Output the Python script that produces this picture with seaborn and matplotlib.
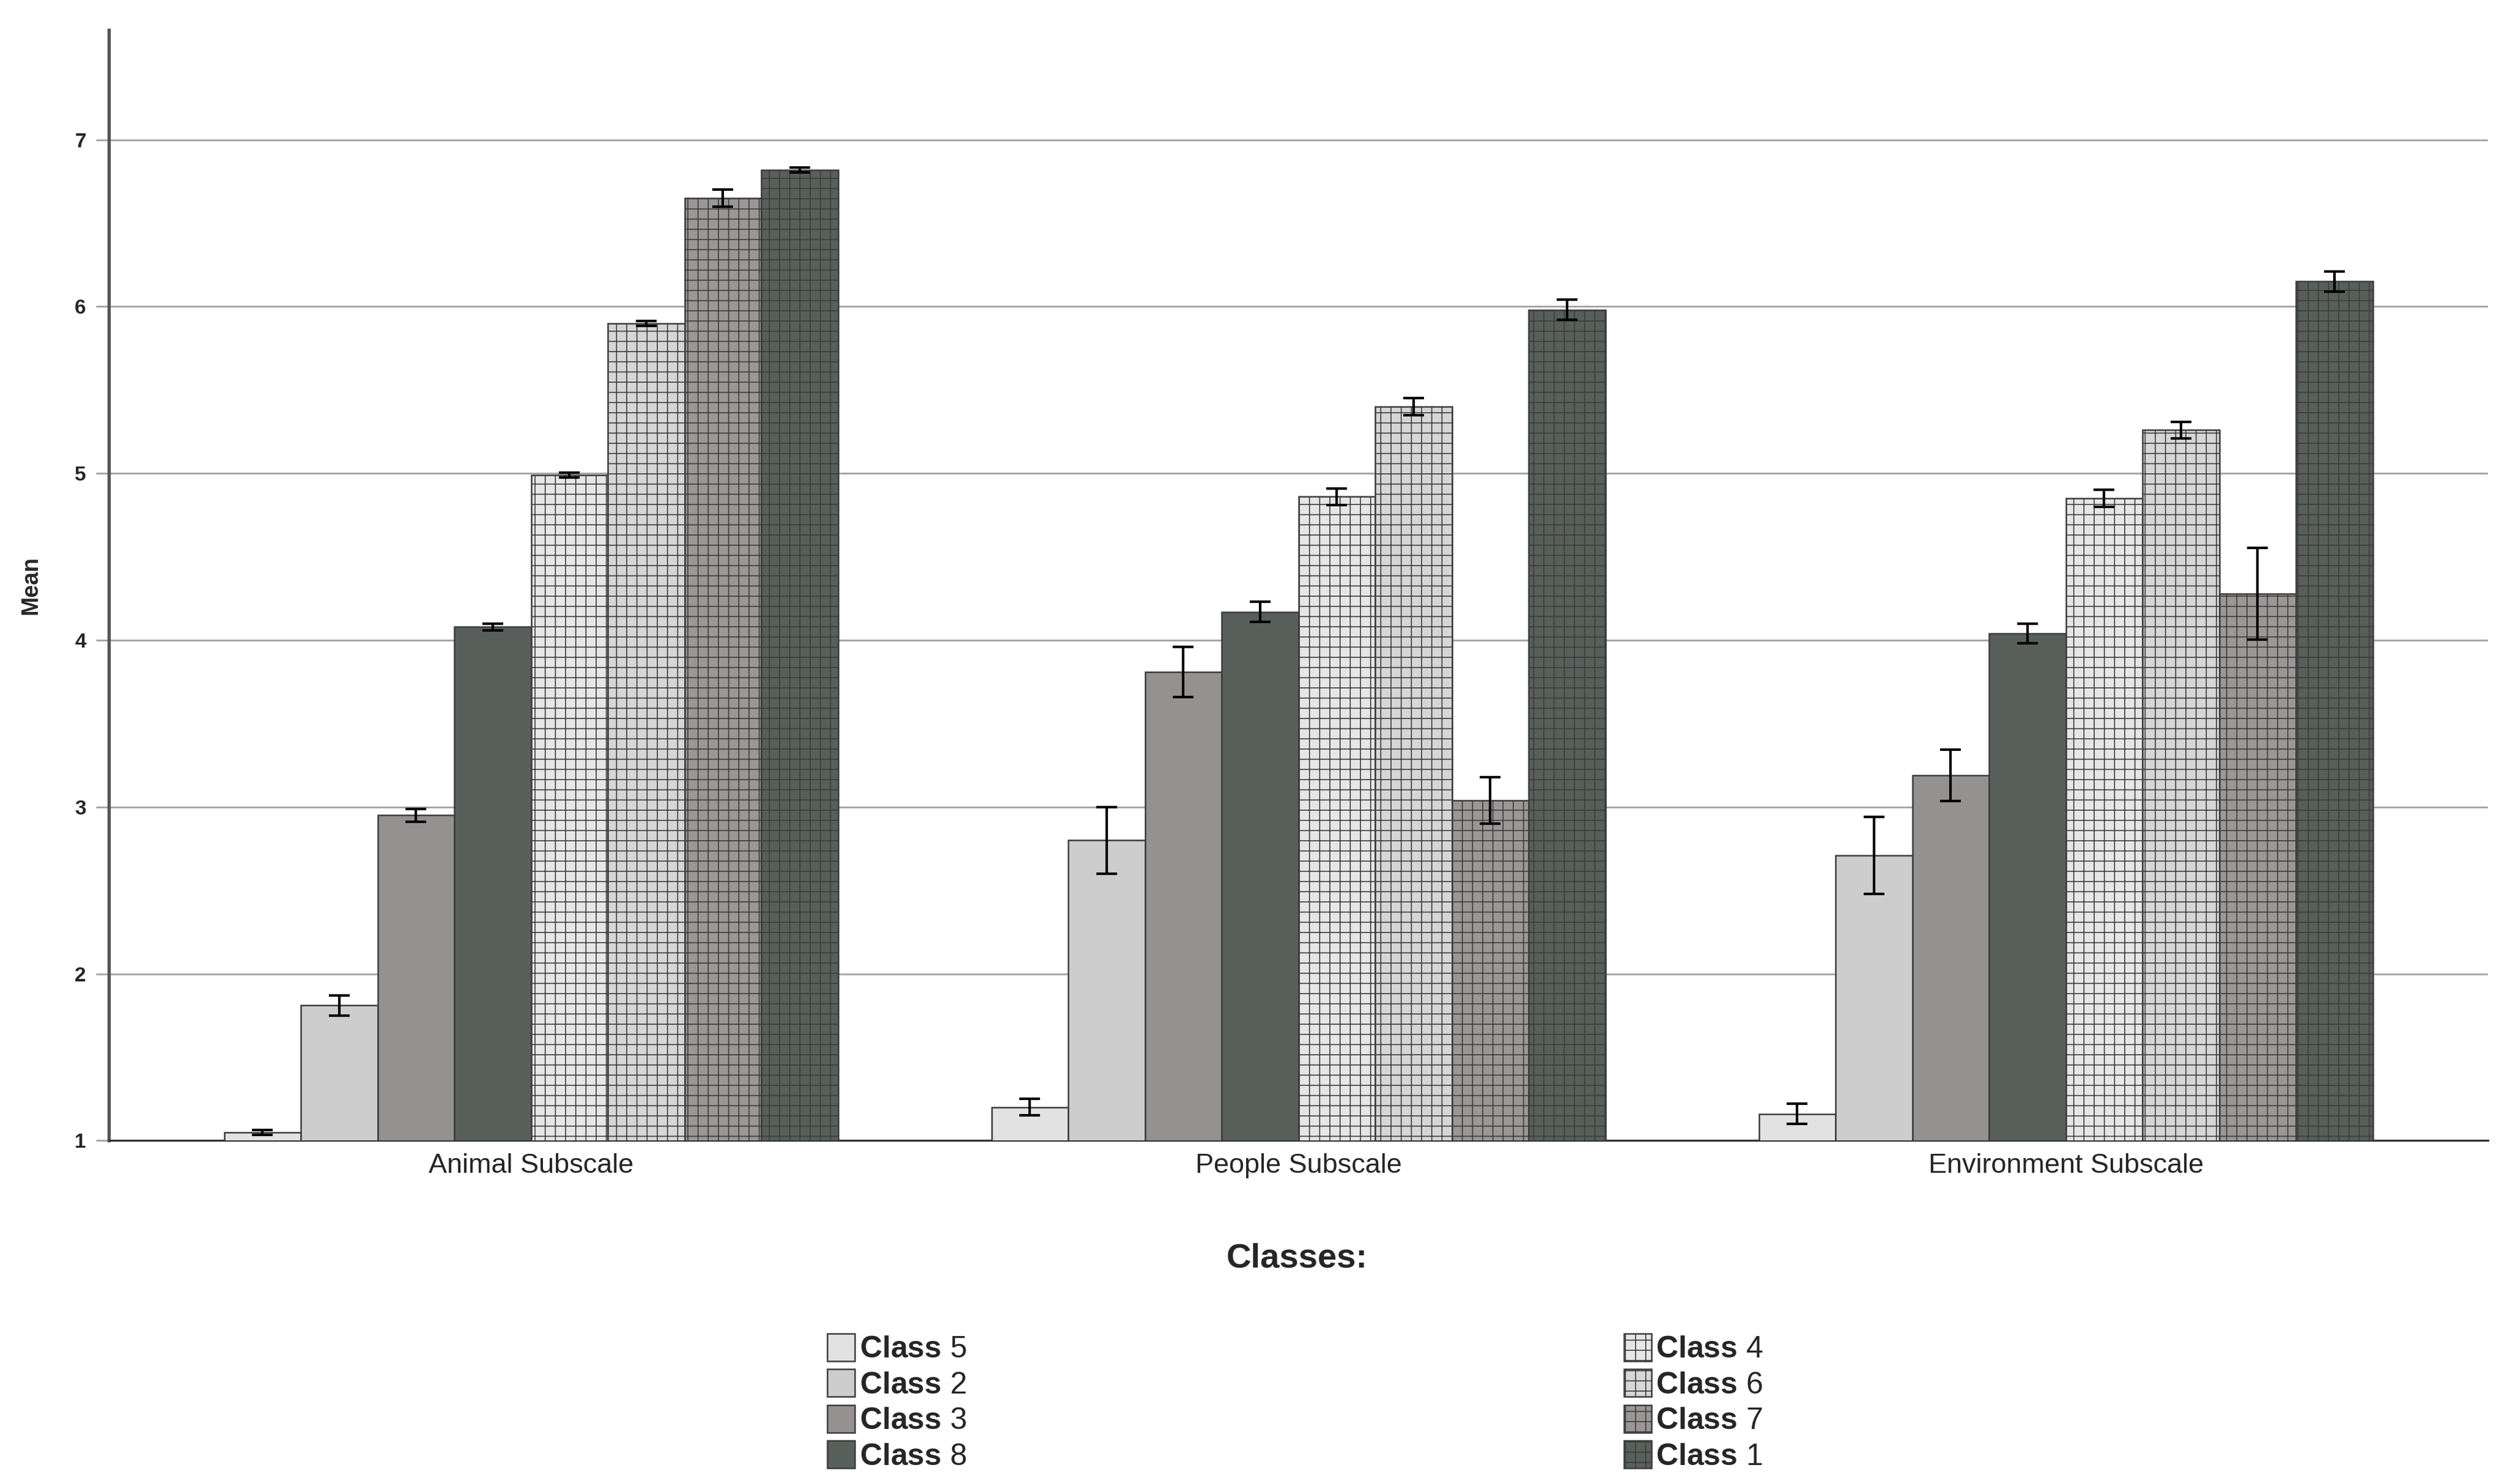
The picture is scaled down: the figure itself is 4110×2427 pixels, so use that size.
import pandas as pd
import matplotlib
matplotlib.use("Agg")
import matplotlib.pyplot as plt
import matplotlib.patches as mpatches
import seaborn as sns

# data
subscales = ["Animal Subscale", "People Subscale", "Environment Subscale"]
classes = ["Class 5", "Class 2", "Class 3", "Class 8", "Class 4", "Class 6", "Class 7", "Class 1"]

class5 = [1.05, 1.20, 1.16]
class2 = [1.81, 2.80, 2.71]
class3 = [2.95, 3.81, 3.19]
class8 = [4.08, 4.17, 4.04]
class4 = [4.99, 4.86, 4.85]
class6 = [5.90, 5.40, 5.26]
class7 = [6.65, 3.04, 4.28]
class1 = [6.82, 5.98, 6.15]

err5 = [0.015, 0.05, 0.06]
err2 = [0.06, 0.20, 0.23]
err3 = [0.04, 0.15, 0.155]
err8 = [0.02, 0.06, 0.06]
err4 = [0.015, 0.05, 0.05]
err6 = [0.015, 0.05, 0.05]
err7 = [0.05, 0.14, 0.275]
err1 = [0.015, 0.06, 0.06]

means = [class5, class2, class3, class8, class4, class6, class7, class1]
errs = [err5, err2, err3, err8, err4, err6, err7, err1]

colors = ["#e2e2e2", "#cdcdcd", "#959190", "#57605b",
          "#e6e6e6", "#d6d6d6", "#9b9695", "#57605b"]
hatches = ["", "", "", "", "+++", "+++", "+++", "+++"]

rows = []
for cls, vals in zip(classes, means):
    for sub, v in zip(subscales, vals):
        rows.append({"Subscale": sub, "Class": cls, "Mean": v})
df = pd.DataFrame(rows)

sns.set_style("white")
plt.rcParams["font.family"] = ["Liberation Sans", "DejaVu Sans"]
plt.rcParams["mathtext.fontset"] = "custom"
plt.rcParams["mathtext.rm"] = "Liberation Sans"
plt.rcParams["mathtext.bf"] = "Liberation Sans:bold"
plt.rcParams["hatch.linewidth"] = 0.4

fig = plt.figure(figsize=(13.7, 8.09), dpi=300)
ax = fig.add_axes([0.0434, 0.2314, 0.9466, 0.7486])

sns.barplot(data=df, x="Subscale", y="Mean", hue="Class", order=subscales,
            hue_order=classes, palette=dict(zip(classes, colors)),
            errorbar=None, width=0.8, edgecolor="#3c3c3c", linewidth=0.6,
            legend=False, ax=ax, zorder=3)

# hatch + error bars per class, positions taken from the drawn bars
for cont, h, e in zip(ax.containers, hatches, errs):
    xs, ys = [], []
    for bar in cont:
        bar.set_hatch(h)
        xs.append(bar.get_x() + bar.get_width() / 2)
        ys.append(bar.get_y() + bar.get_height())
    ax.errorbar(xs, ys, yerr=e, fmt="none", ecolor="black",
                elinewidth=1.0, capsize=4, capthick=1.0, zorder=4)

ax.set_ylim(1, 7.66)
ax.set_xlim(-0.55, 2.55)
ax.set_yticks([1, 2, 3, 4, 5, 6, 7])
ax.yaxis.grid(True, color="#a6a6a6", linewidth=0.7, zorder=0)
ax.xaxis.grid(False)

for side in ["top", "right"]:
    ax.spines[side].set_visible(False)
ax.spines["left"].set_color("#555555")
ax.spines["left"].set_linewidth(1.3)
ax.spines["bottom"].set_color("#333333")
ax.spines["bottom"].set_linewidth(0.8)

ax.tick_params(axis="y", length=5, width=0.7, color="#a6a6a6", pad=4,
               labelsize=8, left=True)
ax.tick_params(axis="x", length=0, pad=5, labelsize=10.8)
for t in ax.get_yticklabels():
    t.set_fontweight("bold")

ax.set_xlabel("")
ax.set_ylabel("Mean", fontsize=9, fontweight="bold", labelpad=13)

fig.text(0.516, 0.152, "Classes:", ha="center", va="center",
         fontsize=13.5, fontweight="bold")

handles = []
for cls, c, h in zip(classes, colors, hatches):
    num = cls.split()[1]
    handles.append(mpatches.Patch(facecolor=c, edgecolor="#3c3c3c", linewidth=0.6,
                                  hatch=h, label=r"$\mathbf{Class}$ " + num))
fig.legend(handles=handles, ncol=2, loc="upper center",
           bbox_to_anchor=(0.5155, 0.12), frameon=False, fontsize=12,
           handlelength=0.9, handleheight=1.0, handletextpad=0.15,
           labelspacing=0.18, columnspacing=21.5)

fig.savefig("out.png", dpi=300)
